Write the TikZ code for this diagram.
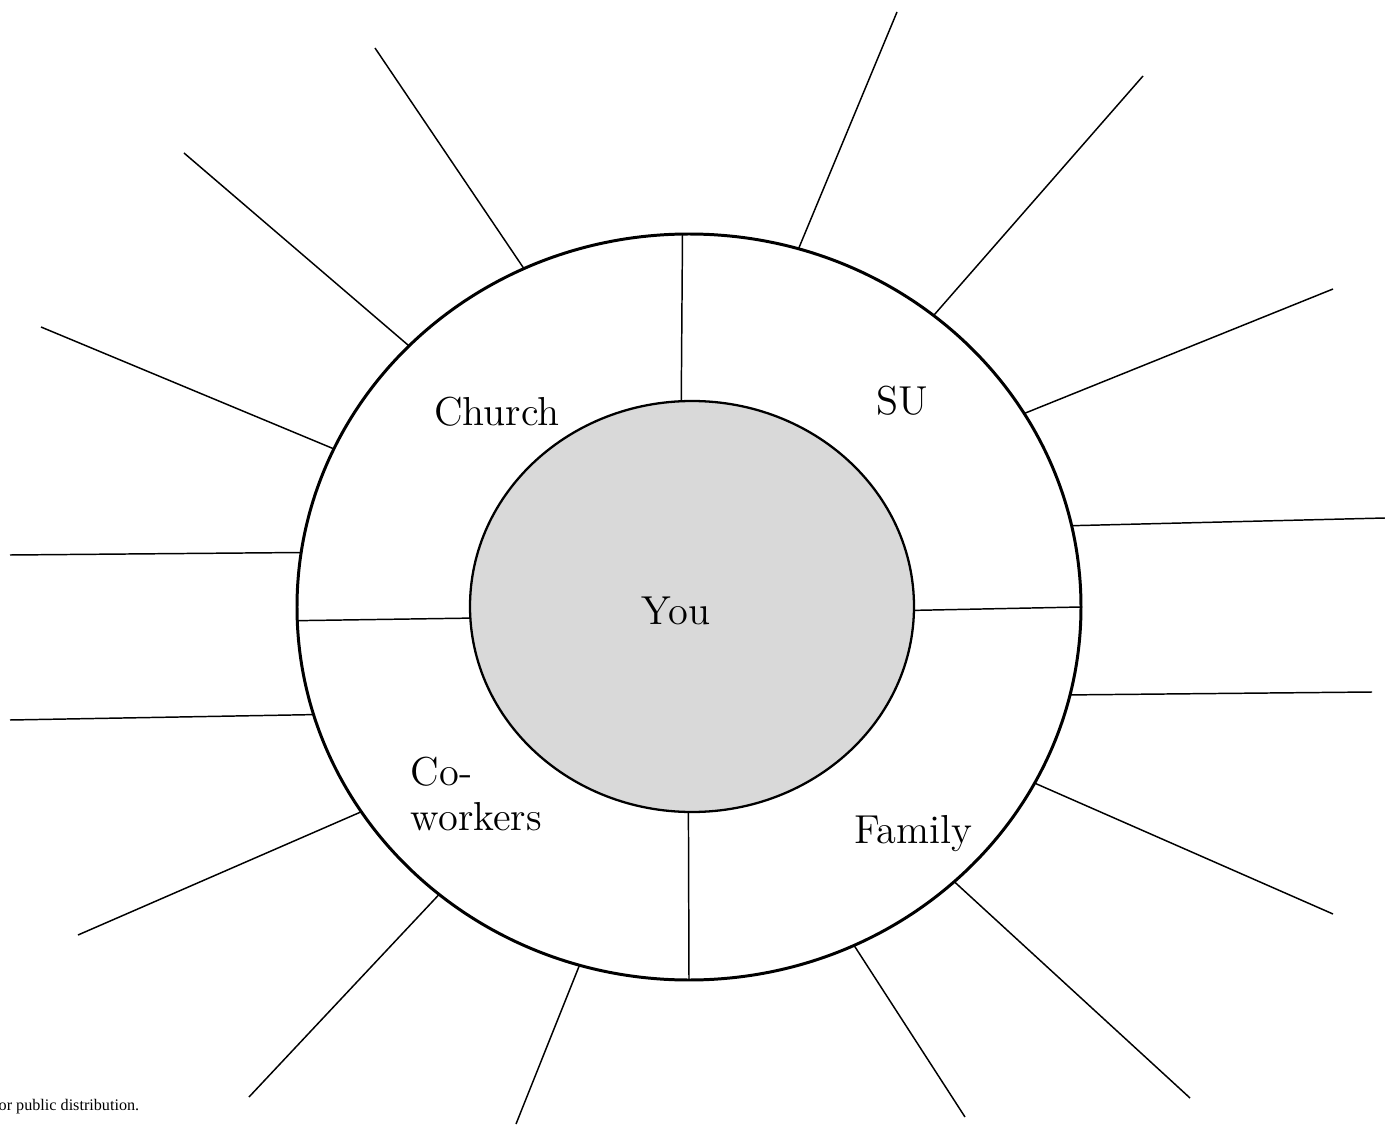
\documentclass[tikz,border=0pt]{standalone}
\usepackage{fontspec}
\newfontfamily\notefont{Liberation Serif}
\usetikzlibrary{shapes.geometric}
\begin{document}
\begin{tikzpicture}[
    ring/.style={ellipse, draw, inner sep=0pt, outer sep=0pt},
    ray/.style={line width=0.42pt},
    lbl/.style={font=\fontsize{11.5}{13}\selectfont, inner sep=0pt}]
  \useasboundingbox (0,0) rectangle (13.85,-11.26);
  \node[ring, line width=0.85pt, minimum width=7.84cm, minimum height=7.46cm] (outer) at (6.89,-6.07) {};
  \node[ring, fill=black!15, line width=0.65pt, minimum width=4.44cm, minimum height=4.11cm] (inner) at (6.92,-6.065) {};
  \draw[ray] (outer.91.9) -- (inner.93.6);
  \draw[ray] (outer.0.15) -- (inner.-1.3);
  \draw[ray] (outer.270.6) -- (inner.269.7);
  \draw[ray] (outer.182.6) -- (inner.183.9);
  \foreach \a/\x/\y [count=\i] in {116.4/3.75/0.48, 137.6/1.84/1.53, 156.5/0.41/3.27,
      172.6/0.10/5.55, 196.6/0.10/7.20, 212.9/0.78/9.35, 229.1/2.49/10.97,
      253.2/5.16/11.24, 296.1/9.65/11.17, 314.4/11.90/10.98, 333.1/13.33/9.14,
      347.2/13.72/6.92, 12.1/13.85/5.18, 30.9/13.33/2.89, 50.4/11.43/0.76, 73.0/8.97/0.12}
  {
    \coordinate (r\i) at (\x,-\y);
    \draw[ray] (outer.\a) -- (r\i);
  }
  \node[lbl, anchor=base] (church) at (4.97,-4.26) {Church};
  \node[lbl, anchor=base] (su) at (9.02,-4.15) {SU};
  \node[lbl, anchor=base] (you) at (6.76,-6.24) {You};
  \node[lbl, anchor=north west, align=left] (cowork) at (4.10,-7.56) {Co-\\workers};
  \node[lbl, anchor=base] (family) at (9.135,-8.43) {Family};
  \node[font=\notefont\fontsize{4.6}{5}\selectfont, inner sep=0pt, anchor=base west] (note) at (-0.02,-11.10) {or public distribution.};
\end{tikzpicture}
\end{document}
